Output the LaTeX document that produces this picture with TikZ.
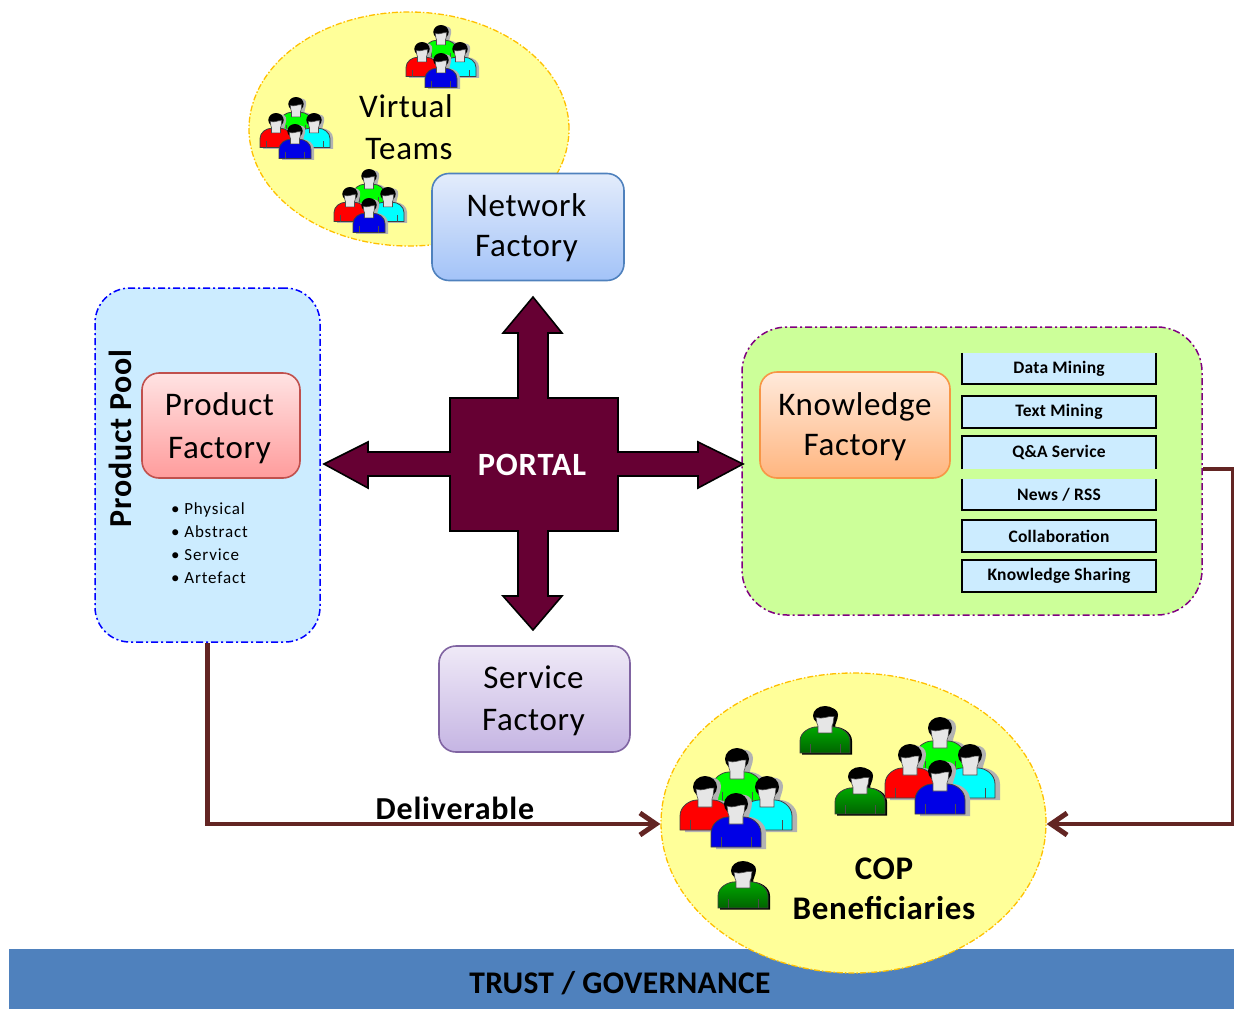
\documentclass[tikz,border=0pt]{standalone}
\usepackage{fontspec}
\setmainfont{Carlito}
\usetikzlibrary{arrows.meta,shapes.geometric}
\definecolor{portalc}{HTML}{660033}
\definecolor{linkc}{HTML}{632523}
\definecolor{poolc}{HTML}{CCECFF}
\definecolor{barc}{HTML}{4F81BD}
\definecolor{ellfill}{HTML}{FFFF99}
\definecolor{elldraw}{HTML}{FFC000}
\definecolor{kfill}{HTML}{CCFF99}
\definecolor{kdraw}{HTML}{800080}
\definecolor{personcyan}{HTML}{00FFFF}
\definecolor{personblue}{HTML}{0000E6}
\definecolor{facec}{HTML}{E6E6E6}
\definecolor{singletop}{HTML}{00A800}
\definecolor{singlebot}{HTML}{006400}
\definecolor{nettop}{HTML}{E3ECFB}
\definecolor{netbot}{HTML}{A3C3F8}
\definecolor{svctop}{HTML}{EFE9F7}
\definecolor{svcbot}{HTML}{C5B5E3}
\definecolor{svcdraw}{HTML}{8064A2}
\definecolor{prodtop}{HTML}{FFE3E3}
\definecolor{prodbot}{HTML}{FF9C9C}
\definecolor{proddraw}{HTML}{C0504D}
\definecolor{knowtop}{HTML}{FFEADB}
\definecolor{knowbot}{HTML}{FFB57F}
\definecolor{knowdraw}{HTML}{F79646}
\tikzset{
  ell/.style={ellipse,draw=elldraw,fill=ellfill,line width=1.3pt,dash pattern=on 6pt off 2pt on 1.5pt off 2pt,inner sep=0pt},
  ddash/.style={line width=1.5pt,rounded corners=#1,dash pattern=on 7pt off 3pt on 2pt off 3pt,inner sep=0pt},
  factory/.style={rounded corners=17pt,line width=1.6pt,minimum width=#1,inner sep=0pt},
  factorytext/.style={inner sep=0pt,align=center,font=\fontsize{33}{#1}\selectfont\addfontfeature{LetterSpace=2}},
  service/.style={rectangle,fill=poolc,inner sep=0pt,minimum width=194pt,font=\fontsize{17.5}{20}\bfseries\selectfont\addfontfeature{LetterSpace=1.5}},
  link/.style={draw=linkc,line width=4.5pt,-{Straight Barb[length=16pt,width=22pt,line width=5pt]}},
  boldtext/.style={inner sep=0pt,font=\fontsize{#1}{40}\bfseries\selectfont\addfontfeature{LetterSpace=2.5},align=center},
}
% x, y (top centre), x scale, y scale, body fill options, shadow colour, shadow dx
\newcommand{\personfig}[7]{%
\begin{scope}[shift={(#1,#2)},xscale=#3,yscale=#4]
  \fill[#6] (#7,56) -- (#7-25,56) -- (#7-25,40) .. controls (#7-25,30) and (#7-15,24) .. (#7-8,24) -- (#7-8,8) .. controls (#7-8,-1) and (#7+11,-1) .. (#7+11,10) .. controls (#7+11,16) and (#7+8,20) .. (#7+8,24) .. controls (#7+15,24) and (#7+25,30) .. (#7+25,40) -- (#7+25,56) -- cycle;
  \draw[line width=.8pt,draw=black!75,#5] (-25,54) -- (-25,40) .. controls (-25,30) and (-15,24) .. (-8,24) -- (8,24) .. controls (15,24) and (25,30) .. (25,40) -- (25,54) -- cycle;
  \draw[line width=.8pt,black!70] (-15,44) -- (-15,54) (15,44) -- (15,54);
  \fill[black] (0,11) ellipse [x radius=12,y radius=11];
  \draw[fill=facec,draw=black!70,line width=.6pt] (-9,13) .. controls (-3,16) and (3,11) .. (9,12) -- (8,20) -- (7,23) -- (7,31) -- (-7,31) -- (-7,23) -- (-8,20) -- cycle;
\end{scope}}
\newcommand{\persongroup}[9]{%
\personfig{#1}{#2}{#9}{#9}{fill=green}{black!30}{5}
\personfig{#3}{#4}{#9}{#9}{fill=red}{black!30}{5}
\personfig{#5}{#6}{#9}{#9}{fill=personcyan}{black!30}{5}
\personfig{#7}{#8}{#9}{#9}{fill=personblue}{black!30}{5}}
\newcommand{\personsingle}[2]{\personfig{#1}{#2}{1}{.87}{top color=singletop,bottom color=singlebot}{black}{2}}
\begin{document}
\begin{tikzpicture}[x=1pt,y=-1pt]
\useasboundingbox (0,0) rectangle (1234,1009);
% bar
\node[rectangle,fill=barc,minimum width=1225pt,minimum height=60pt,inner sep=0pt] (bar) at (621.5,979) {};
% ellipses
\node[ell,minimum width=320pt,minimum height=234pt] (vt) at (409,129) {};
\node[ell,minimum width=385pt,minimum height=300pt] (cop) at (853.5,823) {};
\node[inner sep=0pt,font=\fontsize{31.5}{40}\bfseries\selectfont\addfontfeature{LetterSpace=1}] (bartext) at (620,983) {TRUST / GOVERNANCE};
% virtual teams
\persongroup{441}{25}{422}{42}{460}{42}{441}{53}{.64}
\persongroup{296}{97}{276}{113}{314}{113}{295}{124}{.64}
\persongroup{369}{169}{350}{187}{388}{187}{369}{198}{.64}
\node[factorytext=42] (vttext) at (406,127) {Virtual\\\hspace*{6pt}Teams};
% COP people
\persongroup{737}{748}{705}{776}{767}{776}{736}{793}{1}
\personsingle{825}{706}
\personsingle{860}{767}
\personsingle{743}{861}
\persongroup{940}{717}{910}{744}{970}{744}{940}{760}{1}
\node[inner sep=0pt,align=center,font=\fontsize{33}{40}\bfseries\selectfont\addfontfeature{LetterSpace=2}] (coptext) at (884,889) {COP\\Beneficiaries};
% pools
\node[ddash=35pt,draw=blue,fill=poolc,minimum width=225pt,minimum height=354pt] (pool) at (207.5,465) {};
\node[ddash=45pt,draw=kdraw,fill=kfill,minimum width=460pt,minimum height=288pt] (kpool) at (972,471) {};
% factories
\node[factory=192pt,minimum height=107pt,draw=barc,top color=nettop,bottom color=netbot] (net) at (528,227) {};
\node[factorytext=40] (nettext) at (526.5,228) {Network\\Factory};
\node[factory=191pt,minimum height=106pt,draw=svcdraw,top color=svctop,bottom color=svcbot] (svc) at (534.5,699) {};
\node[factorytext=42] (svctext) at (533.5,701) {Service\\Factory};
\node[factory=158pt,minimum height=105pt,draw=proddraw,top color=prodtop,bottom color=prodbot] (prod) at (221,425.5) {};
\node[factorytext=43] (prodtext) at (219.5,428) {Product\\Factory};
\node[factory=190pt,minimum height=106pt,draw=knowdraw,top color=knowtop,bottom color=knowbot] (know) at (855,425) {};
\node[factorytext=40] (knowtext) at (855,426.5) {Knowledge\\Factory};
% portal cross
\draw[fill=portalc,draw=black,line width=1.6pt,line join=miter]
  (533,297) -- (562,333) -- (548,333) -- (548,398) -- (618,398) -- (618,452) -- (698,452) -- (698,442) -- (743,464)
  -- (698,488) -- (698,476) -- (618,476) -- (618,531) -- (548,531) -- (548,596) -- (562,596) -- (533,630)
  -- (503,596) -- (518,596) -- (518,531) -- (450,531) -- (450,476) -- (368,476) -- (368,488) -- (324,464)
  -- (368,442) -- (368,452) -- (450,452) -- (450,398) -- (518,398) -- (518,333) -- (503,333) -- cycle;
\node[rectangle,text=white,inner sep=0pt,font=\fontsize{32.5}{36}\bfseries\selectfont\addfontfeature{LetterSpace=2.5}] (portal) at (532,465) {PORTAL};
% service boxes
\node[service,minimum height=31pt] (dm) at (1059,368.5) {Data Mining};
\draw[line width=2pt] (dm.north west) -- (dm.south west) -- (dm.south east) -- (dm.north east);
\node[service,minimum height=32pt,draw=black,line width=2pt] (tm) at (1059,412) {Text Mining};
\node[service,minimum height=33pt] (qa) at (1059,452.5) {Q\&A Service};
\draw[line width=2pt] (qa.south west) -- (qa.north west) -- (qa.north east) -- (qa.south east);
\node[service,minimum height=31pt] (news) at (1059,494.5) {News / RSS};
\draw[line width=2pt] (news.north west) -- (news.south west) -- (news.south east) -- (news.north east);
\node[service,minimum height=32pt,draw=black,line width=2pt] (coll) at (1059,536) {Collaboration};
\node[service,minimum height=32pt,draw=black,line width=2pt] (ks) at (1059,576) {Knowledge Sharing};
% pool labels
\node[boldtext=32,rotate=90] (pooltext) at (120,438.5) {Product Pool};
\node[inner sep=0pt,align=left,anchor=west,font=\fontsize{17}{23}\selectfont\addfontfeature{LetterSpace=5}] (bullets) at (171,543) {• Physical\\• Abstract\\• Service\\• Artefact};
% links
\coordinate (kexit) at (kpool.east |- 0,469);
\coordinate (railtop) at (1233,469);
\coordinate (railbot) at (1233,824);
\coordinate (copright) at (cop.east |- 0,824);
\coordinate (copleft) at (cop.west |- 0,824);
\draw[link] (pool.south) -- (pool.south |- copleft) -- (copleft);
\draw[link] (kexit) -- (railtop) -- (railbot) -- (copright);
\node[boldtext=32] (deliv) at (455,808) {Deliverable};
\end{tikzpicture}
\end{document}
